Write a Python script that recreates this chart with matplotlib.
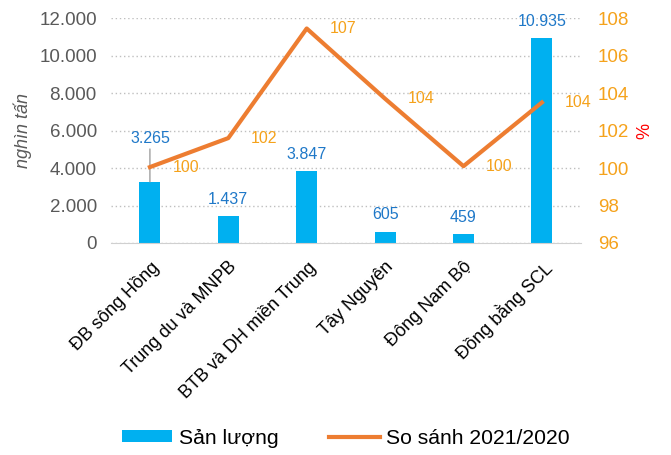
import matplotlib.pyplot as plt
from matplotlib.ticker import FuncFormatter
import numpy as np

plt.rcParams['font.family'] = ['Liberation Sans', 'DejaVu Sans']

regions = ['ĐB sông Hồng', 'Trung du và MNPB', 'BTB và DH miền Trung',
           'Tây Nguyên', 'Đông Nam Bộ', 'Đồng bằng SCL']
san_luong = [3265, 1437, 3847, 605, 459, 10935]
so_sanh = [100.05, 101.6, 107.45, 103.7, 100.1, 103.5]
so_sanh_labels = ['100', '102', '107', '104', '100', '104']

bar_color = '#00B0F0'
line_color = '#ED7D31'
blue_text = '#1F78C8'
orange_text = '#F5A21B'
gray_text = '#595959'

fig = plt.figure(figsize=(6.71, 4.55), dpi=100)
ax = fig.add_axes([0.165, 0.466, 0.701, 0.494])
ax2 = ax.twinx()

x = np.arange(len(regions))
ax.bar(x, san_luong, width=0.27, color=bar_color, label='Sản lượng', zorder=2)
ax.set_xlim(-0.5, len(regions) - 0.5)
ax.set_ylim(0, 12000)
ax.set_yticks(range(0, 12001, 2000))
ax.yaxis.set_major_formatter(FuncFormatter(lambda v, p: f'{int(v):,}'.replace(',', '.')))
ax.grid(axis='y', linestyle=(0, (1, 2)), color='#BFBFBF', linewidth=1, zorder=0)
ax.set_axisbelow(True)
for s in ['left', 'right', 'top']:
    ax.spines[s].set_visible(False)
ax.spines['bottom'].set_color('#D0D0D0')
ax.tick_params(axis='y', length=0, labelsize=13.5, colors=gray_text, pad=10)
ax.tick_params(axis='x', length=0, labelsize=13, pad=11)
ax.set_xticks(x)
ax.set_xticklabels(regions, rotation=45, ha='right', rotation_mode='anchor')
ax.set_ylabel('nghìn tấn', fontsize=13, style='italic', color=gray_text, labelpad=5)

# bar value labels
for i, v in enumerate(san_luong):
    lbl = f'{v:,}'.replace(',', '.')
    if i == 0:
        ax.annotate(lbl, xy=(i, v), xytext=(i, v + 1900), ha='center', va='bottom',
                    fontsize=11.5, color=blue_text,
                    arrowprops=dict(arrowstyle='-', color='#A0A0A0', lw=1, shrinkA=0, shrinkB=0))
    else:
        ax.text(i, v + 500, lbl, ha='center', va='bottom', fontsize=11.5, color=blue_text)

ax2.plot(x, so_sanh, color=line_color, linewidth=3, label='So sánh 2021/2020', zorder=3)
ax2.set_ylim(96, 108)
ax2.set_yticks(range(96, 109, 2))
for s in ['left', 'right', 'top', 'bottom']:
    ax2.spines[s].set_visible(False)
ax2.tick_params(axis='y', length=0, labelsize=13.5, colors=orange_text, pad=12)
ax2.set_ylabel('%', color='red', fontsize=13, rotation=270, labelpad=13)

for i, (v, lbl) in enumerate(zip(so_sanh, so_sanh_labels)):
    ax2.text(i + 0.46, v, lbl, ha='center', va='center', fontsize=11.5, color=orange_text)

h1, l1 = ax.get_legend_handles_labels()
h2, l2 = ax2.get_legend_handles_labels()
fig.legend(h1 + h2, l1 + l2, loc='center', bbox_to_anchor=(0.515, 0.037), ncol=2,
           frameon=False, fontsize=15.2, handlelength=2.4, handleheight=0.5,
           columnspacing=2.4, handletextpad=0.3)

fig.savefig('out.png', dpi=100)
